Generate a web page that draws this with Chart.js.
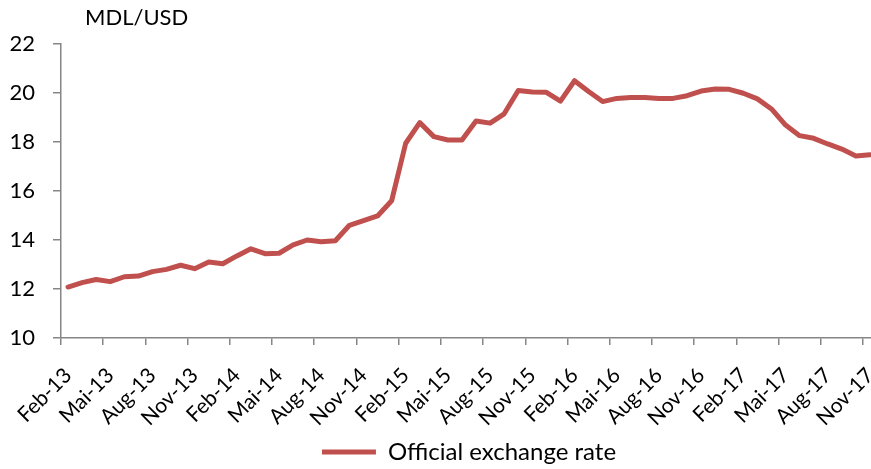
<!DOCTYPE html>
<html>
<head>
<meta charset="utf-8">
<script src="https://cdn.jsdelivr.net/npm/chart.js@4/dist/chart.umd.min.js"></script>
<style>
html, body { margin: 0; padding: 0; overflow: hidden; background: #fff; }
#wrap { width: 880px; height: 474px; position: relative; }
</style>
</head>
<body>
<div id="wrap"><canvas id="c"></canvas></div>
<script>
const categories = [
  'Feb-13','Mar-13','Apr-13','Mai-13','Jun-13','Jul-13','Aug-13','Sep-13','Oct-13','Nov-13','Dec-13',
  'Jan-14','Feb-14','Mar-14','Apr-14','Mai-14','Jun-14','Jul-14','Aug-14','Sep-14','Oct-14','Nov-14','Dec-14',
  'Jan-15','Feb-15','Mar-15','Apr-15','Mai-15','Jun-15','Jul-15','Aug-15','Sep-15','Oct-15','Nov-15','Dec-15',
  'Jan-16','Feb-16','Mar-16','Apr-16','Mai-16','Jun-16','Jul-16','Aug-16','Sep-16','Oct-16','Nov-16','Dec-16',
  'Jan-17','Feb-17','Mar-17','Apr-17','Mai-17','Jun-17','Jul-17','Aug-17','Sep-17','Oct-17','Nov-17'
];
const exchangeRate = [
  12.08, 12.26, 12.39, 12.30, 12.50, 12.53, 12.71, 12.80, 12.97, 12.83, 13.10,
  13.03, 13.35, 13.64, 13.44, 13.46, 13.80, 14.00, 13.93, 13.97, 14.60, 14.79, 14.98,
  15.60, 17.95, 18.79, 18.22, 18.08, 18.08, 18.86, 18.77, 19.15, 20.10, 20.04, 20.03,
  19.67, 20.50, 20.06, 19.65, 19.78, 19.82, 19.82, 19.78, 19.78, 19.89, 20.08, 20.16,
  20.15, 19.99, 19.76, 19.35, 18.69, 18.26, 18.15, 17.92, 17.71, 17.43, 17.48
];
const yTicks = { min: 10, max: 22, step: 2 };
const seriesName = 'Official exchange rate';
const unitLabel = 'MDL/USD';

const FONT = 'Lato';
const AXIS = '#868686';
const RED = '#C0504D';

const unitPlugin = {
  id: 'unitLabel',
  afterDraw(chart) {
    const { ctx, chartArea } = chart;
    ctx.save();
    ctx.font = '22px ' + FONT;
    ctx.fillStyle = '#000';
    ctx.textBaseline = 'middle';
    ctx.textAlign = 'left';
    ctx.fillText(unitLabel, chartArea.left + 24, chartArea.top - 26);
    ctx.restore();
  }
};

new Chart(document.getElementById('c'), {
  type: 'line',
  data: {
    labels: categories,
    datasets: [{
      label: seriesName,
      data: exchangeRate,
      borderColor: RED,
      backgroundColor: RED,
      borderWidth: 5,
      borderCapStyle: 'round',
      borderJoinStyle: 'round',
      pointRadius: 0,
      tension: 0
    }]
  },
  options: {
    responsive: true,
    maintainAspectRatio: false,
    animation: false,
    layout: { padding: { top: 44, left: 10, right: 3, bottom: 0 } },
    plugins: {
      legend: {
        position: 'bottom',
        fullSize: false,
        labels: {
          usePointStyle: true,
          pointStyle: 'line',
          pointStyleWidth: 54,
          boxHeight: 5,
          padding: 4,
          color: '#000',
          font: { family: FONT, size: 24 }
        }
      },
      tooltip: { enabled: false }
    },
    scales: {
      x: {
        type: 'category',
        offset: true,
        afterFit(s) { s.paddingLeft = 0; s.paddingRight = 0; s.height = 98; },
        grid: {
          offset: true,
          drawOnChartArea: false,
          drawTicks: true,
          tickLength: 7,
          lineWidth: 1.5,
          color: (ctx) => (ctx.index % 3 === 0 ? AXIS : 'rgba(0,0,0,0)')
        },
        border: { color: AXIS, width: 1.5 },
        ticks: {
          autoSkip: false,
          minRotation: 45,
          maxRotation: 45,
          padding: 18,
          color: '#000',
          font: { family: FONT, size: 21 },
          callback: function (val, i) { return i % 3 === 0 ? this.getLabelForValue(val) : ''; }
        }
      },
      y: {
        min: yTicks.min,
        max: yTicks.max,
        afterFit(s) { s.width = 51; },
        grid: {
          drawOnChartArea: false,
          drawTicks: true,
          tickLength: 8,
          lineWidth: 1.5,
          color: AXIS
        },
        border: { color: AXIS, width: 1.5 },
        ticks: {
          stepSize: yTicks.step,
          padding: 18,
          color: '#000',
          font: { family: FONT, size: 22 }
        }
      }
    }
  },
  plugins: [unitPlugin]
});
</script>
</body>
</html>
